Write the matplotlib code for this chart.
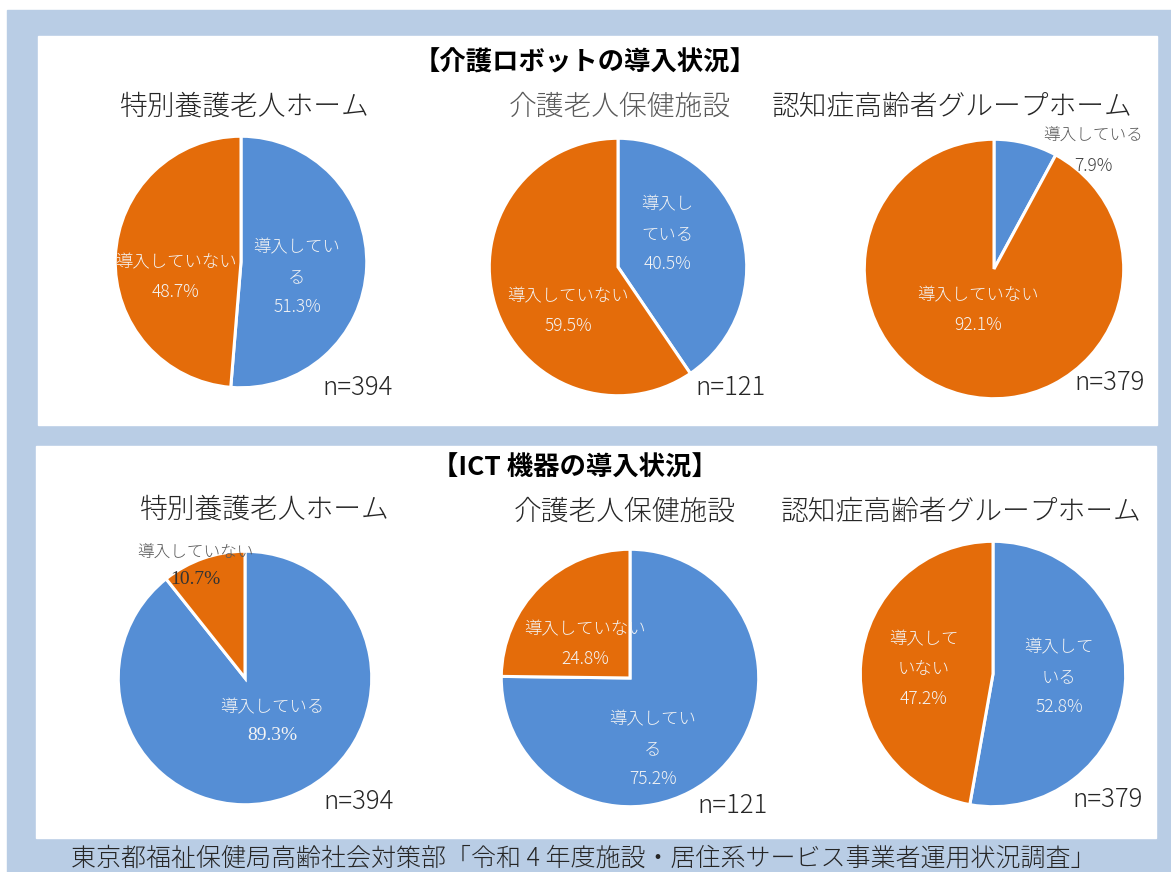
import matplotlib as mpl
mpl.use('Agg')
import matplotlib.pyplot as plt
from matplotlib.patches import Rectangle

plt.rcParams['font.family'] = ['Noto Sans CJK JP', 'DejaVu Sans']

# data
facilities = ['特別養護老人ホーム', '介護老人保健施設', '認知症高齢者グループホーム']
categories = ['導入している', '導入していない']
robot_pct = [[51.3, 48.7], [40.5, 59.5], [7.9, 92.1]]
ict_pct = [[89.3, 10.7], [75.2, 24.8], [52.8, 47.2]]
n_counts = [394, 121, 379]
section_titles = ['【介護ロボットの導入状況】', '【ICT 機器の導入状況】']
source = '東京都福祉保健局高齢社会対策部「令和 4 年度施設・居住系サービス事業者運用状況調査」'

BLUE = '#558ed5'
ORANGE = '#e46c0a'
W, H = 1171, 872

fig = plt.figure(figsize=(W / 100, H / 100), dpi=100)
bg = fig.add_axes([0, 0, 1, 1])
bg.set_xlim(0, W)
bg.set_ylim(H, 0)
bg.axis('off')
bg.add_patch(Rectangle((7, 10), W - 7, H - 10, color='#b9cde5'))
bg.add_patch(Rectangle((38, 36), 1119, 389, color='white'))
bg.add_patch(Rectangle((36, 446), 1120, 392, color='white'))

# layout in pixels: pie (cx, cy, r), subtitle (x, y), n label (x, y)
# label specs: (line-broken name, x, y, style)
sections = [
    dict(title_xy=(585, 63), pct=robot_pct,
         pies=[(241, 262, 127), (618, 267, 130), (994, 269, 131)],
         subs=[(245, 107, '#262626'), (620, 107, '#595959'), (952, 107, '#262626')],
         ns=[(358, 388), (731, 388), (1110, 383)],
         labels=[[('導入してい\nる', 297, 277, 'w'), ('導入していない', 176, 277, 'w')],
                 [('導入し\nている', 667, 234, 'w'), ('導入していない', 568, 311, 'w')],
                 [('導入している', 1093, 150, 'out'), ('導入していない', 978, 310, 'w')]]),
    dict(title_xy=(575, 468), pct=ict_pct,
         pies=[(245, 678, 128), (630, 678, 130), (993, 674, 134)],
         subs=[(265, 510, '#262626'), (625, 512, '#262626'), (961, 512, '#262626')],
         ns=[(359, 802), (733, 806), (1108, 800)],
         labels=[[('導入している', 272, 721, 'w_serif'), ('導入していない', 195, 565, 'out_serif')],
                 [('導入してい\nる', 653, 749, 'w'), ('導入していない', 585, 644, 'w')],
                 [('導入して\nいる', 1059, 677, 'w'), ('導入して\nいない', 924, 669, 'w')]]),
]

for k, sec in enumerate(sections):
    for i, (cx, cy, r) in enumerate(sec['pies']):
        ax = fig.add_axes([(cx - r) / W, 1 - (cy + r) / H, 2 * r / W, 2 * r / H])
        ax.pie(sec['pct'][i], colors=[BLUE, ORANGE], startangle=90, counterclock=False,
               wedgeprops=dict(edgecolor='white', linewidth=2.2))
        ax.set_xlim(-1.01, 1.01)
        ax.set_ylim(-1.01, 1.01)
        ax.axis('off')

# text overlay above the pies
top = fig.add_axes([0, 0, 1, 1])
top.set_xlim(0, W)
top.set_ylim(H, 0)
top.axis('off')
top.patch.set_alpha(0)

for k, sec in enumerate(sections):
    top.text(sec['title_xy'][0], sec['title_xy'][1], section_titles[k],
             fontsize=19, fontweight='bold', ha='center', va='center', color='black')
    for i in range(3):
        sx, sy, sc = sec['subs'][i]
        top.text(sx, sy, facilities[i], fontsize=20, ha='center', va='center', color=sc,
                 fontweight='light')
        nx, ny = sec['ns'][i]
        top.text(nx, ny, 'n=%d' % n_counts[i], fontsize=18.5, ha='center', va='center',
                 color='#262626', fontweight='light')

        for j, (name, lx, ly, style) in enumerate(sec['labels'][i]):
            pct = '%.1f%%' % sec['pct'][i][j]
            if style == 'w':
                top.text(lx, ly, name + '\n' + pct, fontsize=12.5, ha='center', va='center',
                         color='#f4f4f4', linespacing=1.85, fontweight='light')
            elif style == 'w_serif':
                top.text(lx, ly - 14, name, fontsize=12.5, ha='center', va='center',
                         color='#f4f4f4', fontweight='light')
                top.text(lx, ly + 14, pct, fontsize=14, ha='center', va='center', color='#f4f4f4',
                         family='Liberation Serif')
            elif style == 'out':
                top.text(lx, ly - 15, name, fontsize=12, ha='center', va='center', color='#595959',
                         fontweight='light')
                top.text(lx, ly + 16, pct, fontsize=12.5, ha='center', va='center',
                         color='#404040', fontweight='light')
            else:
                top.text(lx, ly - 13, name, fontsize=12, ha='center', va='center', color='#595959',
                         fontweight='light')
                top.text(lx, ly + 14, pct, fontsize=14, ha='center', va='center', color='#333333',
                         family='Liberation Serif')

top.text(583, 858, source, fontsize=18, ha='center', va='center', color='#262626',
         fontweight='light')

plt.savefig('out.png', dpi=100)
